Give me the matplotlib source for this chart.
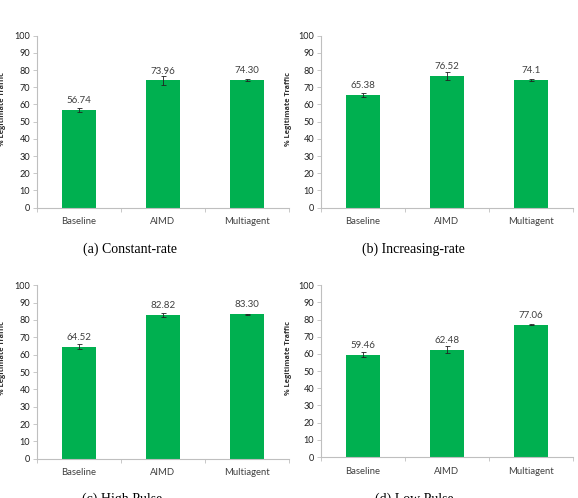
import numpy as np
import matplotlib.pyplot as plt

plt.rcParams['font.family'] = ['Lato', 'DejaVu Sans']

# data
categories = ['Baseline', 'AIMD', 'Multiagent']
captions = ['(a) Constant-rate', '(b) Increasing-rate', '(c) High Pulse', '(d) Low Pulse']
values = [
    [56.74, 73.96, 74.30],
    [65.38, 76.52, 74.1],
    [64.52, 82.82, 83.30],
    [59.46, 62.48, 77.06],
]
labels = [
    ['56.74', '73.96', '74.30'],
    ['65.38', '76.52', '74.1'],
    ['64.52', '82.82', '83.30'],
    ['59.46', '62.48', '77.06'],
]
errors = [
    [1.2, 2.5, 0.6],
    [1.2, 2.2, 0.5],
    [1.5, 1.2, 0.3],
    [1.5, 2.0, 0.3],
]

W, H = 578, 498
fig = plt.figure(figsize=(W / 100, H / 100), dpi=100)

# pixel boxes (left, top_y_of_100, bottom_y_of_0)
boxes = [(37, 35.7, 207.7), (321, 35.7, 207.7), (37, 285.3, 458.7), (321, 285.3, 457.0)]
cap_pos = [(130, 249, 'center'), (413, 249, 'center'), (122, 493, 'top'), (414, 493, 'top')]
ylab_pos = [(3, 109), (289, 109), (3, 358), (289, 358)]

green = '#00B050'
axis_gray = '#BFBFBF'
text_gray = '#404040'

for i in range(4):
    l, t, b = boxes[i]
    ax = fig.add_axes([l / W, 1 - b / H, 252 / W, (b - t) / H])
    x = np.arange(len(categories))
    ax.bar(x, values[i], width=0.4, color=green, zorder=2)
    ax.errorbar(x, values[i], yerr=errors[i], fmt='none', ecolor='#222222',
                elinewidth=0.6, capsize=1.8, capthick=0.6, zorder=3)
    for xi, v, s in zip(x, values[i], labels[i]):
        ax.annotate(s, xy=(xi, v), xytext=(0, 3.5), textcoords='offset points',
                    ha='center', va='bottom', fontsize=7, color=text_gray)

    ax.set_xlim(-0.5, 2.5)
    ax.set_ylim(0, 100)
    ax.set_yticks(np.arange(0, 101, 10))
    ax.tick_params(axis='y', labelsize=6.6, colors=axis_gray, labelcolor='#202020',
                   length=3, width=0.6, pad=2)
    ax.set_xticks(x)
    ax.set_xticklabels(categories)
    ax.set_xticks([-0.5, 0.5, 1.5, 2.5], minor=True)
    ax.tick_params(axis='x', which='major', length=0, labelsize=6.8,
                   labelcolor=text_gray, pad=7)
    ax.tick_params(axis='x', which='minor', length=3, width=0.6, colors=axis_gray)
    for side in ['top', 'right']:
        ax.spines[side].set_visible(False)
    for side in ['left', 'bottom']:
        ax.spines[side].set_color(axis_gray)
        ax.spines[side].set_linewidth(0.8)

    fig.text(ylab_pos[i][0] / W, 1 - ylab_pos[i][1] / H, '% Legitimate Traffic',
             rotation=90, ha='center', va='center', fontsize=5.3,
             fontweight='bold', color='#303030',
             family=['Liberation Sans Narrow', 'Open Sans'])
    cx, cy, cva = cap_pos[i]
    fig.text(cx / W, 1 - cy / H, captions[i],
             ha='center', va=cva, fontsize=10, family='Liberation Serif')

fig.savefig('out.png', dpi=100)
